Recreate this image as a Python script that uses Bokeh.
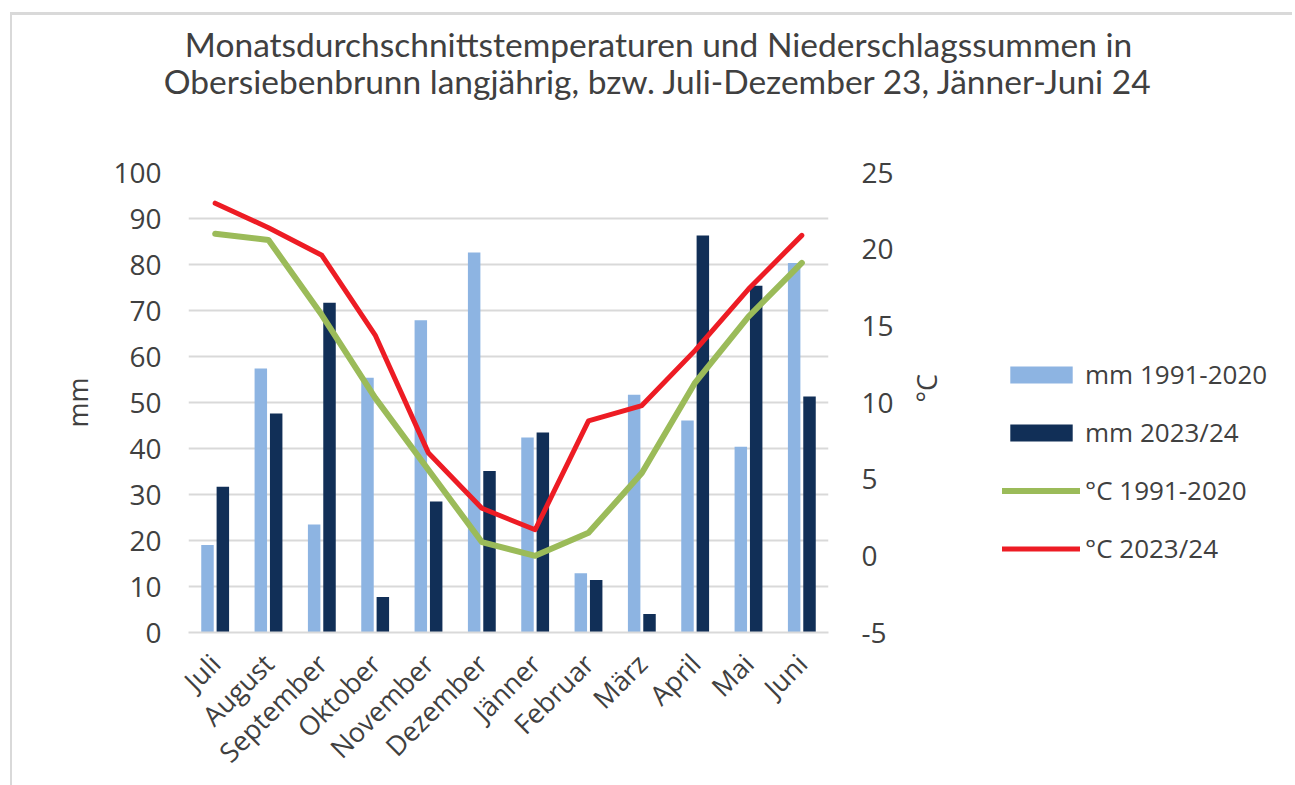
from math import pi
from bokeh.plotting import figure
from bokeh.layouts import column, row
from bokeh.models import (Range1d, LinearAxis, SingleIntervalTicker, Legend, LegendItem,
                          Label, ColumnDataSource, PrintfTickFormatter)
from bokeh.transform import dodge
from bokeh.embed import file_html
from bokeh.resources import INLINE

months = ["Juli", "August", "September", "Oktober", "November", "Dezember",
          "Jänner", "Februar", "März", "April", "Mai", "Juni"]
mm_1991_2020 = [19.0, 57.4, 23.5, 55.4, 67.9, 82.6, 42.4, 12.9, 51.7, 46.1, 40.4, 80.3]
mm_2023_24 = [31.7, 47.6, 71.7, 7.7, 28.5, 35.1, 43.5, 11.4, 4.0, 86.3, 75.4, 51.3]
temp_1991_2020 = [21.0, 20.6, 15.7, 10.3, 5.6, 0.9, 0.0, 1.5, 5.4, 11.3, 15.6, 19.1]
temp_2023_24 = [23.0, 21.4, 19.6, 14.4, 6.7, 3.1, 1.7, 8.8, 9.8, 13.4, 17.4, 20.9]

title_lines = ["Monatsdurchschnittstemperaturen und Niederschlagssummen in",
               "Obersiebenbrunn langjährig, bzw. Juli-Dezember 23, Jänner-Juni 24"]
legend_labels = ["mm 1991-2020", "mm 2023/24", "°C 1991-2020", "°C 2023/24"]

C_MM_OLD = "#8DB4E2"
C_MM_NEW = "#112F57"
C_T_OLD = "#9BBB59"
C_T_NEW = "#ED1C24"
TXT = "#404040"
GRID = "#D9D9D9"
FONT = "Open Sans"

src = ColumnDataSource(dict(month=months, a=mm_1991_2020, b=mm_2023_24,
                            ta=temp_1991_2020, tb=temp_2023_24))

# ---------------- title strip ----------------
TW, TH = 1280, 120
pt = figure(width=TW, height=TH, x_range=Range1d(0, TW), y_range=Range1d(0, TH),
            output_backend="svg", toolbar_location=None,
            x_axis_type=None, y_axis_type=None, min_border=0)
pt.grid.visible = False
pt.outline_line_color = None
pt.border_fill_color = "white"
for i, t in enumerate(title_lines):
    pt.add_layout(Label(x=646, y=TH - 28 - 37 * i, text=t, text_align="center",
                        text_baseline="middle", text_font="Lato",
                        text_font_size="33.5px", text_color=TXT))

# ---------------- main chart ----------------
PH = 650
p = figure(x_range=months, y_range=Range1d(0, 100), width=960, height=PH,
           output_backend="svg", toolbar_location=None,
           min_border_left=176, min_border_right=144, min_border_top=37,
           min_border_bottom=153)
p.extra_y_ranges = {"temp": Range1d(-5, 25)}
p.outline_line_color = None
p.background_fill_color = "white"
p.border_fill_color = "white"

p.xgrid.grid_line_color = None
p.ygrid.grid_line_color = GRID
p.ygrid.grid_line_width = 2
p.yaxis.ticker = SingleIntervalTicker(interval=10)

r1 = p.vbar(x=dodge("month", -0.144, range=p.x_range), top="a", width=0.234,
            source=src, fill_color=C_MM_OLD, line_color=None)
r2 = p.vbar(x=dodge("month", 0.144, range=p.x_range), top="b", width=0.234,
            source=src, fill_color=C_MM_NEW, line_color=None)
r3 = p.line(x="month", y="ta", source=src, y_range_name="temp", line_color=C_T_OLD,
            line_width=6, line_cap="round", line_join="round")
r4 = p.line(x="month", y="tb", source=src, y_range_name="temp", line_color=C_T_NEW,
            line_width=5, line_cap="round", line_join="round")

ya = p.yaxis[0]
ya.axis_line_color = None
ya.major_tick_line_color = None
ya.minor_tick_line_color = None
ya.major_label_standoff = 21
ya.major_label_text_font = FONT
ya.major_label_text_font_size = "28px"
ya.major_label_text_color = TXT
ya.axis_label = "mm"
ya.axis_label_text_font = FONT
ya.axis_label_text_font_size = "27px"
ya.axis_label_text_font_style = "normal"
ya.axis_label_text_color = TXT
ya.axis_label_standoff = 14

ra = LinearAxis(y_range_name="temp", ticker=SingleIntervalTicker(interval=5),
                formatter=PrintfTickFormatter(format="%d"))
ra.axis_line_color = None
ra.major_tick_line_color = None
ra.minor_tick_line_color = None
ra.major_label_standoff = 27
ra.major_label_text_font = FONT
ra.major_label_text_font_size = "28px"
ra.major_label_text_color = TXT
ra.axis_label = "°C"
ra.axis_label_text_font = FONT
ra.axis_label_text_font_size = "27px"
ra.axis_label_text_font_style = "normal"
ra.axis_label_text_color = TXT
ra.axis_label_standoff = 30
if "axis_label_orientation" in ra.properties():
    ra.axis_label_orientation = pi / 2
p.add_layout(ra, "right")

xa = p.xaxis[0]
xa.axis_line_color = GRID
xa.axis_line_width = 2
xa.major_tick_line_color = None
xa.minor_tick_line_color = None
xa.major_label_orientation = pi / 4
xa.major_label_standoff = 20
xa.major_label_text_font = FONT
xa.major_label_text_font_size = "27px"
xa.major_label_text_color = TXT

# ---------------- legend strip ----------------
LW = 320
pl = figure(width=LW, height=PH, x_range=months, y_range=Range1d(0, 100),
            output_backend="svg", toolbar_location=None,
            x_axis_type=None, y_axis_type=None, min_border=0)
pl.extra_y_ranges = {"temp": Range1d(-5, 25)}
pl.grid.visible = False
pl.outline_line_color = None
pl.border_fill_color = "white"
pl.background_fill_color = "white"
# legend proxies: same series, hidden (only their legend swatches are drawn)
g1 = pl.vbar(x="month", top="a", width=0.234, source=src, fill_color=C_MM_OLD,
             line_color=None, visible=False)
g2 = pl.vbar(x="month", top="b", width=0.234, source=src, fill_color=C_MM_NEW,
             line_color=None, visible=False)
g3 = pl.line(x="month", y="ta", source=src, y_range_name="temp", line_color=C_T_OLD,
             line_width=6, line_cap="round", visible=False)
g4 = pl.line(x="month", y="tb", source=src, y_range_name="temp", line_color=C_T_NEW,
             line_width=5, line_cap="round", visible=False)
legend = Legend(items=[LegendItem(label=legend_labels[0], renderers=[g1]),
                       LegendItem(label=legend_labels[1], renderers=[g2]),
                       LegendItem(label=legend_labels[2], renderers=[g3]),
                       LegendItem(label=legend_labels[3], renderers=[g4])],
                location=(30, 66), padding=0, margin=0, spacing=22,
                glyph_width=78, glyph_height=21, label_height=21,
                label_standoff=5, border_line_color=None, background_fill_alpha=0,
                inactive_fill_alpha=0,
                label_text_font=FONT, label_text_font_size="26px",
                label_text_color=TXT)
pl.add_layout(legend)

layout = column(pt, row(p, pl))
layout.styles = {"margin-left": "10px", "margin-top": "12px",
                 "border-left": "2px solid #D9D9D9", "border-top": "3px solid #D9D9D9"}

open("out.html", "w").write(file_html(layout, INLINE))
